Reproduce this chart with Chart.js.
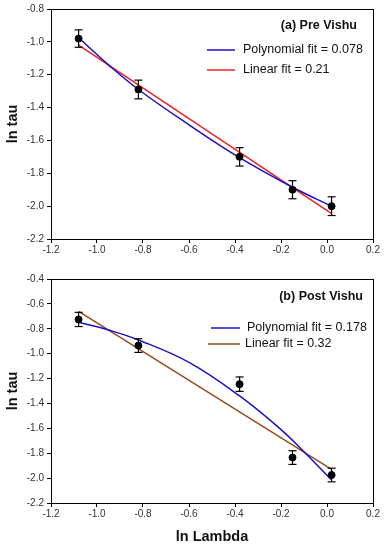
<!DOCTYPE html>
<html>

<head>
    <title>ln tau vs ln Lambda</title>
    <meta charset="UTF-8">
    <script src="https://cdn.jsdelivr.net/npm/chart.js@4.4.1/dist/chart.umd.min.js"></script>
    <style>
        body { margin: 0; background: #fff; }
        canvas { display: block; }
    </style>
</head>

<body>
    <canvas id="preChart" width="385" height="270"></canvas>
    <canvas id="postChart" width="385" height="280"></canvas>
    <script>
        // measured points (both panels share the x values)
        const lnLambda = [-1.08, -0.82, -0.38, -0.15, 0.02];

        const preTau = [-0.98, -1.29, -1.70, -1.90, -2.00];
        const preErr = [0.053, 0.057, 0.056, 0.055, 0.057];
        const prePolyX = [-1.08, -0.95, -0.82, -0.6, -0.38, -0.15, 0.02];
        const prePolyY = [-0.975, -1.14, -1.29, -1.505, -1.705, -1.885, -2.0];
        const preLinX = [-1.08, 0.02];
        const preLinY = [-1.02, -2.045];

        const postTau = [-0.725, -0.935, -1.245, -1.835, -1.975];
        const postErr = [0.057, 0.055, 0.058, 0.055, 0.055];
        const postPolyX = [-1.08, -0.95, -0.82, -0.6, -0.38, -0.2, -0.11, 0.02];
        const postPolyY = [-0.748, -0.81, -0.89, -1.07, -1.34, -1.61, -1.77, -2.015];
        const postLinX = [-1.08, 0.02];
        const postLinY = [-0.66, -1.93];

        const FONT = '"Liberation Sans", Arial, sans-serif';

        const toXY = (xs, ys) => xs.map((x, i) => ({ x: x, y: ys[i] }));

        // legend drawn inside the plot area, top right
        const insideLegend = {
            id: 'insideLegend',
            afterDraw(chart, args, opts) {
                const ctx = chart.ctx;
                const a = chart.chartArea;
                ctx.save();
                ctx.fillStyle = '#111';
                ctx.textBaseline = 'middle';
                ctx.font = 'bold 12.5px ' + FONT;
                ctx.textAlign = 'right';
                ctx.fillText(opts.title, a.right - opts.titleRight, a.top + opts.titleY);
                ctx.font = '12.5px ' + FONT;
                ctx.textAlign = 'left';
                opts.rows.forEach(r => {
                    ctx.strokeStyle = r.color;
                    ctx.lineWidth = 1.5;
                    ctx.beginPath();
                    ctx.moveTo(a.left + r.x0, a.top + r.y);
                    ctx.lineTo(a.left + r.x1, a.top + r.y);
                    ctx.stroke();
                    ctx.fillText(r.text, a.left + r.tx, a.top + r.y);
                });
                ctx.restore();
            }
        };

        function makeChart(id, tau, err, polyX, polyY, linX, linY, linColor, yMin, yMax, legend, showXTitle) {
            const errBars = lnLambda.map((x, i) => ({
                type: 'line',
                data: [{ x: x, y: tau[i] - err[i] }, { x: x, y: tau[i] + err[i] }],
                borderColor: '#000',
                borderWidth: 1.2,
                pointStyle: 'line',
                pointRadius: 4,
                pointBorderWidth: 1.2,
                pointBorderColor: '#000',
                order: 2
            }));
            return new Chart(document.getElementById(id), {
                type: 'scatter',
                data: {
                    datasets: [
                        {
                            type: 'line',
                            data: toXY(polyX, polyY),
                            borderColor: '#1a10c8',
                            borderWidth: 1.5,
                            pointRadius: 0,
                            tension: 0.4,
                            order: 3
                        },
                        {
                            type: 'line',
                            data: toXY(linX, linY),
                            borderColor: linColor,
                            borderWidth: 1.5,
                            pointRadius: 0,
                            order: 4
                        },
                        ...errBars,
                        {
                            data: toXY(lnLambda, tau),
                            backgroundColor: '#000',
                            borderColor: '#000',
                            pointRadius: 3.5,
                            order: 1
                        }
                    ]
                },
                options: {
                    responsive: false,
                    animation: false,
                    layout: { padding: { top: showXTitle ? 3 : 9, right: 12, left: 0, bottom: 0 } },
                    plugins: {
                        legend: { display: false },
                        tooltip: { enabled: false },
                        insideLegend: legend
                    },
                    scales: {
                        x: {
                            type: 'linear',
                            min: -1.2,
                            max: 0.2,
                            afterFit: s => { s.height = showXTitle ? 47 : 31; },
                            ticks: {
                                stepSize: 0.2,
                                color: '#333',
                                font: { family: FONT, size: 10 },
                                padding: 1,
                                maxRotation: 0,
                                callback: v => v.toFixed(1)
                            },
                            grid: { drawOnChartArea: false, color: '#000', tickLength: 4 },
                            border: { color: '#000', width: 1 },
                            title: {
                                display: showXTitle,
                                text: 'ln Lambda',
                                color: '#111',
                                font: { family: FONT, size: 14.5, weight: 'bold' },
                                padding: { top: 6 }
                            }
                        },
                        xTop: {
                            type: 'linear',
                            position: 'top',
                            min: -1.2,
                            max: 0.2,
                            afterFit: s => { s.height = 0; },
                            ticks: { display: false },
                            grid: { display: false },
                            border: { color: '#000', width: 1 }
                        },
                        y: {
                            min: yMin,
                            max: yMax,
                            afterFit: s => { s.width = 51; },
                            ticks: {
                                stepSize: 0.2,
                                color: '#333',
                                font: { family: FONT, size: 10 },
                                padding: 3,
                                callback: v => v.toFixed(1)
                            },
                            grid: { drawOnChartArea: false, color: '#000', tickLength: 4 },
                            border: { color: '#000', width: 1 },
                            title: {
                                display: true,
                                text: 'ln tau',
                                color: '#111',
                                font: { family: FONT, size: 14.5, weight: 'bold' },
                                padding: { bottom: 2 }
                            }
                        },
                        yRight: {
                            position: 'right',
                            min: yMin,
                            max: yMax,
                            afterFit: s => { s.width = 0; },
                            ticks: { display: false },
                            grid: { display: false },
                            border: { color: '#000', width: 1 }
                        }
                    }
                },
                plugins: [insideLegend]
            });
        }

        makeChart('preChart', preTau, preErr, prePolyX, prePolyY, preLinX, preLinY, '#f0202a', -2.2, -0.8, {
            title: '(a) Pre Vishu',
            titleRight: 16,
            titleY: 17,
            rows: [
                { color: '#1a10c8', x0: 156, x1: 184, tx: 192, y: 41, text: 'Polynomial fit = 0.078' },
                { color: '#f0202a', x0: 156, x1: 184, tx: 192, y: 61, text: 'Linear fit = 0.21' }
            ]
        }, false);

        makeChart('postChart', postTau, postErr, postPolyX, postPolyY, postLinX, postLinY, '#9a4a1c', -2.2, -0.4, {
            title: '(b) Post Vishu',
            titleRight: 10,
            titleY: 18,
            rows: [
                { color: '#1a10c8', x0: 160, x1: 189, tx: 196, y: 49, text: 'Polynomial fit = 0.178' },
                { color: '#9a4a1c', x0: 157, x1: 189, tx: 194, y: 65, text: 'Linear fit = 0.32' }
            ]
        }, true);
    </script>

</body>

</html>
